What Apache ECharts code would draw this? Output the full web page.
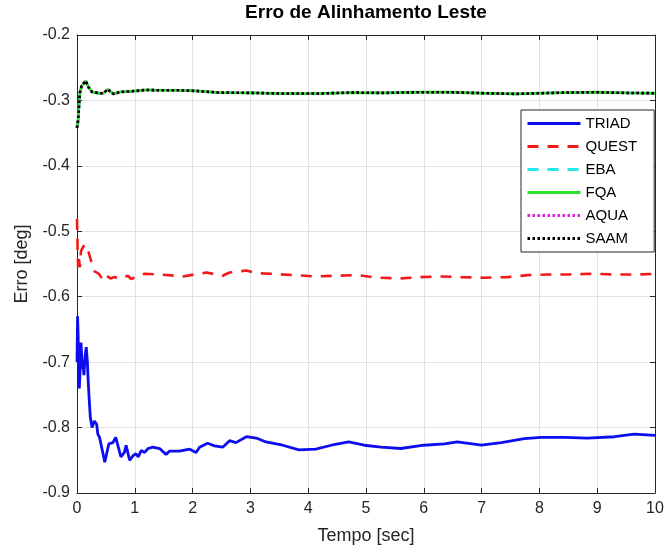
<!DOCTYPE html>
<html>
<head>
<meta charset="utf-8">
<script src="https://cdn.jsdelivr.net/npm/echarts@6/dist/echarts.min.js"></script>
<style>
html,body{margin:0;padding:0;background:#fff;}
#chart{width:667px;height:550px;}
</style>
</head>
<body>
<div id="chart"></div>
<script>
// ---- Data ----
var seriesNames = ['TRIAD', 'QUEST', 'EBA', 'FQA', 'AQUA', 'SAAM'];
var xTicks = [0, 1, 2, 3, 4, 5, 6, 7, 8, 9, 10];
var yTicks = [-0.9, -0.8, -0.7, -0.6, -0.5, -0.4, -0.3, -0.2];

var triadT = [0, 0.01, 0.02, 0.03, 0.04, 0.06, 0.07, 0.09, 0.10, 0.12, 0.14, 0.16, 0.18, 0.19, 0.21, 0.23, 0.26, 0.28, 0.30, 0.34, 0.36, 0.39, 0.42, 0.45, 0.48, 0.50, 0.55, 0.62, 0.67, 0.70, 0.76, 0.82, 0.85, 0.87, 0.91, 0.97, 1.02, 1.06, 1.11, 1.17, 1.23, 1.31, 1.34, 1.43, 1.54, 1.60, 1.77, 1.95, 2.06, 2.12, 2.26, 2.38, 2.52, 2.64, 2.75, 2.93, 3.10, 3.27, 3.56, 3.84, 4.13, 4.40, 4.70, 4.97, 5.26, 5.60, 6.00, 6.36, 6.58, 7.00, 7.34, 7.74, 8.03, 8.43, 8.83, 9.30, 9.64, 10];
var triadV = [-0.70, -0.63, -0.66, -0.72, -0.74, -0.70, -0.67, -0.71, -0.698, -0.72, -0.69, -0.677, -0.70, -0.723, -0.755, -0.784, -0.80, -0.797, -0.79, -0.795, -0.81, -0.815, -0.818, -0.84, -0.853, -0.845, -0.825, -0.823, -0.815, -0.825, -0.845, -0.838, -0.827, -0.83, -0.85, -0.843, -0.84, -0.845, -0.835, -0.838, -0.832, -0.83, -0.827, -0.832, -0.841, -0.836, -0.836, -0.833, -0.838, -0.83, -0.824, -0.828, -0.83, -0.82, -0.823, -0.814, -0.816, -0.822, -0.827, -0.834, -0.833, -0.827, -0.822, -0.827, -0.83, -0.832, -0.827, -0.825, -0.822, -0.827, -0.823, -0.817, -0.815, -0.815, -0.816, -0.814, -0.81, -0.812];

var questT = [0, 0.005, 0.01, 0.02, 0.03, 0.05, 0.07, 0.10, 0.13, 0.16, 0.20, 0.25, 0.30, 0.38, 0.45, 0.51, 0.58, 0.65, 0.74, 0.88, 0.94, 1.05, 1.17, 1.43, 1.83, 2.24, 2.52, 2.64, 2.93, 3.10, 3.35, 3.75, 4.10, 4.47, 4.85, 5.20, 5.60, 5.95, 6.30, 6.65, 7.05, 7.45, 7.80, 8.15, 8.50, 8.90, 9.30, 9.70, 10];
var questV = [-0.481, -0.50, -0.525, -0.555, -0.54, -0.555, -0.53, -0.525, -0.52, -0.519, -0.532, -0.547, -0.561, -0.565, -0.575, -0.568, -0.572, -0.57, -0.573, -0.568, -0.573, -0.568, -0.565, -0.566, -0.569, -0.563, -0.568, -0.563, -0.56, -0.564, -0.565, -0.567, -0.569, -0.568, -0.567, -0.571, -0.572, -0.57, -0.569, -0.57, -0.571, -0.57, -0.567, -0.566, -0.566, -0.565, -0.566, -0.566, -0.565];

var quatT = [0, 0.02, 0.04, 0.05, 0.08, 0.15, 0.20, 0.26, 0.37, 0.46, 0.53, 0.63, 0.75, 0.95, 1.20, 1.43, 1.78, 2.06, 2.46, 3.03, 3.60, 4.17, 4.75, 5.30, 5.90, 6.47, 7.05, 7.60, 8.00, 8.45, 8.97, 9.50, 10];
var ebaV  = [-0.342, -0.33, -0.30, -0.288, -0.278, -0.270, -0.28, -0.287, -0.289, -0.289, -0.283, -0.29, -0.287, -0.286, -0.284, -0.2845, -0.2845, -0.2855, -0.288, -0.2885, -0.2895, -0.2895, -0.288, -0.2885, -0.2875, -0.2875, -0.289, -0.29, -0.289, -0.288, -0.2875, -0.2885, -0.289];
var fqaV  = ebaV.slice();
var aquaV = ebaV.slice();
var saamV = ebaV.slice();

function pairs(t, v) { return t.map(function (x, i) { return [x, v[i]]; }); }

var axisColor = '#262626';
var gridColor = '#e2e2e2';
var font = '"Liberation Sans", Arial, Helvetica, sans-serif';

function mkSeries(name, t, v, color, type, width) {
  return {
    name: name, type: 'line', data: pairs(t, v), showSymbol: false, symbol: 'none',
    lineStyle: { color: color, type: type, width: width }, itemStyle: { color: color },
    animation: false, emphasis: { disabled: true }
  };
}

var chart = echarts.init(document.getElementById('chart'), null, { renderer: 'canvas' });
chart.setOption({
  backgroundColor: '#ffffff',
  animation: false,
  title: {
    text: 'Erro de Alinhamento Leste', left: 366, top: 3, textAlign: 'center', padding: 0,
    textStyle: { fontFamily: font, fontSize: 19, fontWeight: 'bold', color: '#000' }
  },
  grid: { left: 77, right: 12, top: 35, bottom: 57, containLabel: false },
  legend: {
    orient: 'vertical', left: 521, top: 110,
    padding: [6, 17, 6, 5], itemWidth: 53, itemHeight: 14, itemGap: 8, itemTextGap: 2,
    borderColor: axisColor, borderWidth: 1, backgroundColor: '#fff',
    itemStyle: { color: 'rgba(0,0,0,0)', borderWidth: 0, opacity: 0 },
    lineStyle: { width: 3 },
    textStyle: { fontFamily: font, fontSize: 15, color: '#000' },
    data: seriesNames
  },
  xAxis: [{
    type: 'value', min: xTicks[0], max: xTicks[xTicks.length - 1], interval: 1, position: 'bottom',
    name: 'Tempo [sec]', nameLocation: 'middle', nameGap: 34,
    nameTextStyle: { fontFamily: font, fontSize: 18, color: axisColor },
    axisLine: { show: true, onZero: false, lineStyle: { color: axisColor, width: 1 } },
    axisTick: { show: true, inside: true, length: 5, lineStyle: { color: axisColor } },
    axisLabel: { fontFamily: font, fontSize: 16, color: axisColor, margin: 8 },
    splitLine: { show: true, lineStyle: { color: gridColor, width: 1 } }
  }, {
    type: 'value', min: xTicks[0], max: xTicks[xTicks.length - 1], interval: 1, position: 'top',
    axisLine: { show: true, onZero: false, lineStyle: { color: axisColor, width: 1 } },
    axisTick: { show: true, inside: true, length: 5, lineStyle: { color: axisColor } },
    axisLabel: { show: false }, splitLine: { show: false }
  }],
  yAxis: [{
    type: 'value', min: yTicks[0], max: yTicks[yTicks.length - 1], interval: 0.1, position: 'left',
    name: 'Erro [deg]', nameLocation: 'middle', nameGap: 46,
    nameTextStyle: { fontFamily: font, fontSize: 18, color: axisColor },
    axisLine: { show: true, onZero: false, lineStyle: { color: axisColor, width: 1 } },
    axisTick: { show: true, inside: true, length: 5, lineStyle: { color: axisColor } },
    axisLabel: { fontFamily: font, fontSize: 16, color: axisColor, margin: 7,
      formatter: function (v) { return v.toFixed(1); } },
    splitLine: { show: true, lineStyle: { color: gridColor, width: 1 } }
  }, {
    type: 'value', min: yTicks[0], max: yTicks[yTicks.length - 1], interval: 0.1, position: 'right',
    axisLine: { show: true, onZero: false, lineStyle: { color: axisColor, width: 1 } },
    axisTick: { show: true, inside: true, length: 5, lineStyle: { color: axisColor } },
    axisLabel: { show: false }, splitLine: { show: false }
  }],
  series: [
    mkSeries('TRIAD', triadT, triadV, '#0d0df0', 'solid', 2.8),
    mkSeries('QUEST', questT, questV, '#f01a1a', [11, 9], 2.6),
    mkSeries('EBA', quatT, ebaV, '#22e8e8', [11, 9], 2.6),
    mkSeries('FQA', quatT, fqaV, '#2ee02e', 'solid', 2.8),
    mkSeries('AQUA', quatT, aquaV, '#e020e0', [2.5, 2.5], 2.6),
    mkSeries('SAAM', quatT, saamV, '#000000', [2.5, 2.5], 2.6)
  ]
});
</script>
</body>
</html>
